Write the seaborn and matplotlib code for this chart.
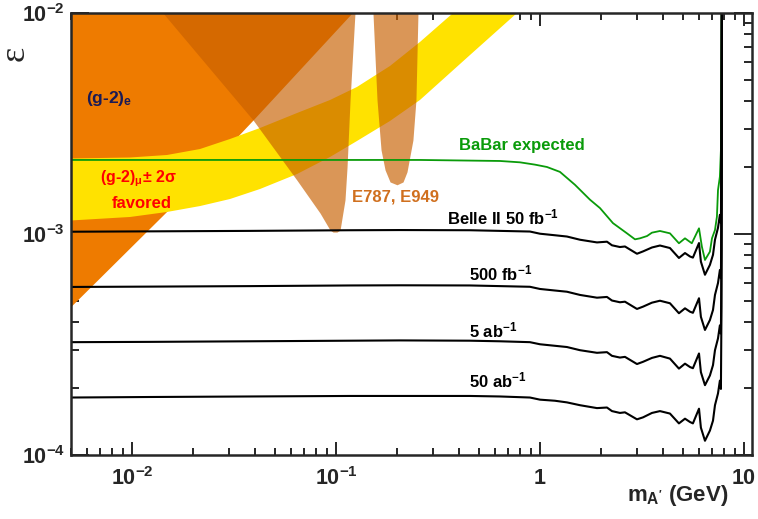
"""Belle II dark photon (A' -> invisible) sensitivity vs (g-2) and E787/E949 regions."""

import matplotlib
matplotlib.use("Agg")
import matplotlib.pyplot as plt  # noqa: E402
import numpy as np  # noqa: E402
import seaborn as sns  # noqa: E402
from matplotlib.ticker import FuncFormatter, LogLocator, NullFormatter  # noqa: E402

# ---------------- data (mass in GeV, epsilon) ----------------
X_MIN, X_MAX = 0.005, 11.0
EPS_MIN, EPS_MAX = 1e-4, 1e-2

# (g-2)_e excluded: lower boundary, filled up to top
GM2E_MASS = [0.005, 0.01485, 0.0392, 0.1198]
GM2E_EPS = [4.69e-4, 1.27e-3, 3.28e-3, 1.0e-2]

# (g-2)_mu +- 2 sigma favoured band
GM2MU_UP_MASS = [0.005, 0.00978, 0.01485, 0.02154, 0.03023, 0.04241, 0.0644,
                 0.0935, 0.1267, 0.1839, 0.258, 0.375]
GM2MU_UP_EPS = [2.196e-3, 2.219e-3, 2.278e-3, 2.424e-3, 2.691e-3, 3.018e-3, 3.527e-3,
                4.040e-3, 4.627e-3, 5.757e-3, 7.393e-3, 1.0e-2]
GM2MU_LO_MASS = [0.005, 0.00978, 0.01485, 0.02154, 0.03023, 0.04241, 0.0644,
                 0.0935, 0.1267, 0.1839, 0.258, 0.454, 0.7714]
GM2MU_LO_EPS = [1.151e-3, 1.194e-3, 1.258e-3, 1.338e-3, 1.440e-3, 1.598e-3, 1.868e-3,
                2.231e-3, 2.635e-3, 3.246e-3, 4.040e-3, 6.457e-3, 1.0e-2]

# E787 / E949 excluded: lower boundary, filled up to top
E787_MASS = [0.01418, 0.0392, 0.0644, 0.0835, 0.0935, 0.0967, 0.1011, 0.1047, 0.1107,
             0.1133, 0.1172, 0.1239, 0.1518, 0.1589, 0.1663, 0.1740, 0.1841, 0.1991,
             0.2131, 0.2229, 0.2383, 0.2466, 0.2523]
E787_EPS = [1.0e-2, 3.28e-3, 1.75e-3, 1.244e-3, 1.042e-3, 1.02e-3, 1.02e-3, 1.042e-3, 1.426e-3,
            2.01e-3, 4.04e-3, 1.0e-2, 1.0e-2, 4.04e-3, 2.40e-3, 1.95e-3, 1.72e-3, 1.67e-3,
            1.72e-3, 1.91e-3, 2.66e-3, 4.04e-3, 1.0e-2]

# BaBar expected (epsilon x 1e4)
BABAR_MASS = [0.005, 0.0666, 0.258, 0.637, 0.798, 0.945, 1.082, 1.253, 1.484, 1.758, 1.969,
              2.279, 2.670, 2.923, 3.093, 3.348, 3.540, 3.875, 4.337, 4.80, 5.14, 5.55, 6.02,
              6.22, 6.44, 6.81, 6.97, 7.21, 7.37, 7.46, 7.62, 7.71, 7.80]
BABAR_EPS_E4 = [21.63, 21.63, 21.63, 21.4, 21.1, 20.6, 20.1, 19.1, 16.7, 14.3, 13.1,
                11.2, 10.07, 9.46, 9.56, 9.79, 10.14, 10.32, 10.07, 9.08, 9.56, 9.08, 10.61,
                8.76, 7.63, 8.32, 9.56, 10.42, 11.98, 15.8, 18.16, 24.0, 200.0]

# Belle II projections (epsilon x 1e4), common mass grid
BELLE_MASS = [0.005, 0.01225, 0.0379, 0.1171, 0.206, 0.454, 0.637, 0.893, 1.0, 1.184, 1.356,
              1.571, 1.903, 2.130, 2.254, 2.466, 2.610, 2.989, 3.199, 3.540, 3.875, 4.337,
              4.80, 5.14, 5.44, 5.62, 6.02, 6.15, 6.44, 6.81, 7.05, 7.21, 7.46, 7.62, 7.71,
              7.76, 7.80]
BELLE_50FB_E4 = [10.24, 10.28, 10.33, 10.40, 10.42, 10.40, 10.33, 10.26, 10.03, 9.87, 9.74,
                 9.42, 9.16, 9.23, 8.89, 8.73, 8.78, 8.14, 8.34, 8.69, 8.87, 8.64,
                 7.79, 8.20, 7.91, 7.82, 9.10, 7.50, 6.54, 7.25, 8.05, 9.42, 10.67, 12.21, 11.2,
                 27.0, 200.0]
BELLE_500FB_E4 = [5.76, 5.78, 5.81, 5.85, 5.86, 5.85, 5.81, 5.77, 5.64, 5.55, 5.48,
                  5.30, 5.15, 5.19, 5.00, 4.91, 4.94, 4.58, 4.69, 4.89, 4.99, 4.86,
                  4.38, 4.61, 4.45, 4.40, 5.12, 4.22, 3.68, 4.08, 4.53, 5.30, 6.00, 6.87, 6.3,
                  15.0, 200.0]
BELLE_5AB_E4 = [3.24, 3.25, 3.27, 3.29, 3.30, 3.29, 3.27, 3.24, 3.17, 3.12, 3.08,
                2.98, 2.90, 2.92, 2.81, 2.76, 2.78, 2.58, 2.64, 2.75, 2.81, 2.73,
                2.46, 2.59, 2.50, 2.47, 2.88, 2.37, 2.07, 2.29, 2.55, 2.98, 3.37, 3.86, 3.54,
                8.4, 200.0]
BELLE_50AB_E4 = [1.82, 1.83, 1.84, 1.85, 1.85, 1.85, 1.84, 1.82, 1.78, 1.76, 1.73,
                 1.68, 1.63, 1.64, 1.58, 1.55, 1.56, 1.45, 1.48, 1.55, 1.58, 1.54,
                 1.39, 1.46, 1.41, 1.39, 1.62, 1.33, 1.16, 1.29, 1.43, 1.68, 1.90, 2.17, 1.99,
                 4.7, 200.0]

# labels: (text, mass, eps at baseline)
BELLE_LABELS = [("Belle II 50 fb$^{-1}$", 0.350, 1.10e-3),
                ("500 fb$^{-1}$", 0.449, 6.19e-4),
                ("5 ab$^{-1}$", 0.449, 3.42e-4),
                ("50 ab$^{-1}$", 0.449, 2.03e-4)]

ORANGE = "#EE7B00"
YELLOW = "#FFE200"
TAN = "#C86000"
GREEN = "#0A9B0A"

sns.set_style("ticks")
plt.rcParams["font.family"] = ["Liberation Sans", "DejaVu Sans"]
plt.rcParams["font.weight"] = "bold"
plt.rcParams["mathtext.fontset"] = "custom"
plt.rcParams["mathtext.rm"] = "Liberation Sans:bold"
plt.rcParams["mathtext.bf"] = "Liberation Sans:bold"
plt.rcParams["mathtext.it"] = "Liberation Sans:bold"
plt.rcParams["mathtext.sf"] = "Liberation Sans:bold"
plt.rcParams["mathtext.default"] = "bf"

fig = plt.figure(figsize=(7.58, 5.19), dpi=100)
ax = fig.add_axes([70.6 / 758, 1 - 455 / 519, 681.8 / 758, 442 / 519])
ax.set_xscale("log")
ax.set_yscale("log")
ax.set_xlim(X_MIN, X_MAX)
ax.set_ylim(EPS_MIN, EPS_MAX)

# shaded regions
ax.fill_between(GM2E_MASS, GM2E_EPS, EPS_MAX, color=ORANGE, lw=0, zorder=1)
band_m = GM2MU_UP_MASS + GM2MU_LO_MASS[::-1]
band_e = GM2MU_UP_EPS + GM2MU_LO_EPS[::-1]
ax.fill(band_m, band_e, color=YELLOW, lw=0, zorder=2)
ax.fill_between(E787_MASS, E787_EPS, EPS_MAX, color=TAN, alpha=0.66, lw=0, zorder=3)

# BaBar expected
sns.lineplot(x=BABAR_MASS, y=np.array(BABAR_EPS_E4) * 1e-4, ax=ax, color=GREEN,
             lw=1.3, estimator=None, sort=False, zorder=4)

# Belle II projections
for vals in [BELLE_50FB_E4, BELLE_500FB_E4, BELLE_5AB_E4, BELLE_50AB_E4]:
    sns.lineplot(x=BELLE_MASS, y=np.array(vals) * 1e-4, ax=ax, color="black",
                 lw=1.5, estimator=None, sort=False, zorder=5)

# text labels
ax.text(0.00595, 3.92e-3, "(g-2)$_{e}$", color="#1A1A55", fontsize=12.5,
        ha="left", va="baseline", zorder=6)
ax.text(0.00697, 1.72e-3, r"(g-2)$_{\mu}$$\pm$ 2$\sigma$", color="#FF0000", fontsize=11.5,
        ha="left", va="baseline", zorder=6)
ax.text(0.00798, 1.31e-3, "favored", color="#FF0000", fontsize=12,
        ha="left", va="baseline", zorder=6)
ax.text(0.1198, 1.40e-3, "E787, E949", color="#D0701F", fontsize=12,
        ha="left", va="baseline", zorder=6)
ax.text(0.401, 2.40e-3, "BaBar expected", color=GREEN, fontsize=12,
        ha="left", va="baseline", zorder=6)
for txt, m, e in BELLE_LABELS:
    ax.text(m, e, txt, color="black", fontsize=12, ha="left", va="baseline", zorder=6)

# axes styling, ROOT-like
for sp in ax.spines.values():
    sp.set_linewidth(1.8)
    sp.set_zorder(7)
ax.xaxis.set_major_locator(LogLocator(base=10, numticks=10))
ax.yaxis.set_major_locator(LogLocator(base=10, numticks=10))
ax.xaxis.set_minor_locator(LogLocator(base=10, subs=np.arange(2, 10), numticks=20))
ax.yaxis.set_minor_locator(LogLocator(base=10, subs=np.arange(2, 10), numticks=20))


def _fmt(v, pos):
    e = int(round(np.log10(v)))
    if e == 0:
        return "1"
    if e == 1:
        return "10"
    return r"$\mathbf{10^{%d}}$" % e


ax.xaxis.set_major_formatter(FuncFormatter(_fmt))
ax.yaxis.set_major_formatter(FuncFormatter(_fmt))
ax.xaxis.set_minor_formatter(NullFormatter())
ax.yaxis.set_minor_formatter(NullFormatter())
ax.tick_params(axis="both", which="both", direction="in", top=True, right=True,
               width=1.4, labelsize=15.5)
ax.tick_params(axis="x", which="major", length=9.5, pad=9)
ax.tick_params(axis="x", which="minor", length=5)
ax.tick_params(axis="y", which="major", length=13, pad=4)
ax.tick_params(axis="y", which="minor", length=6)
for lab in ax.get_xticklabels() + ax.get_yticklabels():
    lab.set_fontweight("bold")
ax.set_xlabel("")
ax.set_ylabel("")

fig.text(728 / 758, 1 - 501 / 519, r"m$_{\mathbf{A'}}$ (GeV)", fontsize=16,
         ha="right", va="baseline", fontweight="bold")
fig.text(15 / 758, 1 - 53 / 519, "\u03b5", fontsize=26, rotation=90,
         ha="center", va="center", family=["Liberation Serif", "DejaVu Serif"],
         fontweight="normal")

fig.savefig("out.png", dpi=100)
